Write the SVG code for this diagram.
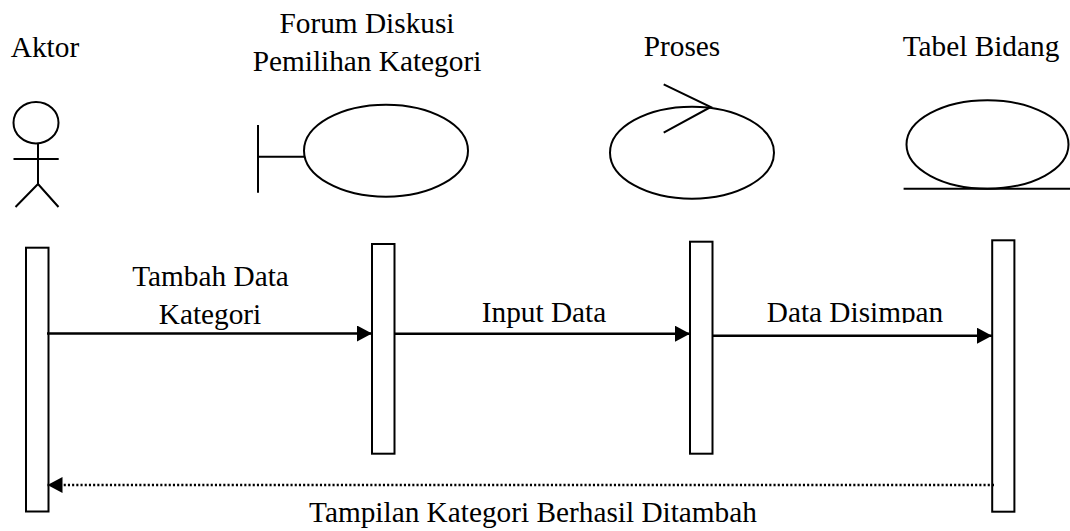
<svg xmlns="http://www.w3.org/2000/svg" width="1070" height="531" viewBox="0 0 1070 531">
<style>
text{font-family:"Liberation Serif","Times New Roman",serif;font-size:29.3px;fill:#000;text-anchor:middle}
.s{fill:none;stroke:#000;stroke-width:2}
.b{fill:#fff;stroke:#000;stroke-width:2}
.c{fill:none;stroke:#000;stroke-width:2.5}
</style>
<defs>
<marker id="a" markerUnits="userSpaceOnUse" markerWidth="15" markerHeight="16" refX="15" refY="8" orient="auto"><path d="M0 0L15 8L0 16Z" fill="#000"/></marker>
<clipPath id="cut"><rect x="740" y="290" width="230" height="33"/></clipPath>
</defs>
<rect width="1070" height="531" fill="#fff"/>
<g id="aktor">
<text x="45" y="57.300">Aktor</text>
<ellipse class="s" cx="36" cy="122.7" rx="22.5" ry="20.7"/>
<path class="s" d="M38 143.5V184M13.5 159H58.7M38 184L15.5 207M38 184L58.5 207"/>
</g>
<g id="forum">
<text x="367" y="33">Forum Diskusi</text>
<text x="367" y="71">Pemilihan Kategori</text>
<ellipse class="s" cx="386" cy="150.7" rx="82" ry="46"/>
<path class="s" d="M258 125V192.7M258 156.7H304"/>
</g>
<g id="proses">
<text x="682" y="56">Proses</text>
<ellipse class="s" cx="692" cy="152.7" rx="82" ry="46"/>
<path class="s" d="M663.7 84.3L710.8 107L663.7 132.7"/>
</g>
<g id="tabel">
<text x="981" y="56">Tabel Bidang</text>
<ellipse class="s" cx="987.5" cy="144.5" rx="81" ry="44.2"/>
<path class="s" d="M903.6 188.7H1070"/>
</g>
<g id="act1"><rect class="b" x="26" y="247.7" width="22.5" height="263.8"/></g>
<g id="act2"><rect class="b" x="372" y="244" width="22.5" height="209.7"/></g>
<g id="act3"><rect class="b" x="690" y="241.7" width="22.5" height="212"/></g>
<g id="act4"><rect class="b" x="992.2" y="240.3" width="22.2" height="271.4"/></g>
<g id="connectors">
<path class="c" d="M47 333.5H372" marker-end="url(#a)"/>
<path class="c" d="M394.5 333.7H690" marker-end="url(#a)"/>
<path class="c" d="M712.5 335.7H992" marker-end="url(#a)"/>
<path d="M994 485H47.5" fill="none" stroke="#000" stroke-width="2.5" stroke-dasharray="2.1 2.1" marker-end="url(#a)"/>
</g>
<g id="labels">
<text x="210.500" y="285.500">Tambah Data</text>
<text x="210" y="324">Kategori</text>
<text x="544" y="322.300">Input Data</text>
<text x="855" y="322.300" clip-path="url(#cut)">Data Disimpan</text>
<text x="533" y="522">Tampilan Kategori Berhasil Ditambah</text>
</g>
</svg>
